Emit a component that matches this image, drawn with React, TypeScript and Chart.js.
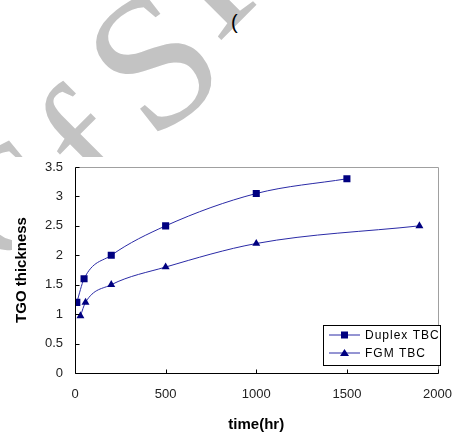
import React, { useEffect, useRef } from "react";
import { Chart, registerables } from "chart.js";

Chart.register(...registerables);

const duplexTime = [10, 50, 200, 500, 1000, 1500];
const duplexThickness = [1.2, 1.6, 2.0, 2.5, 3.05, 3.3];
const fgmTime = [30, 58, 200, 500, 1000, 1900];
const fgmThickness = [0.97, 1.2, 1.5, 1.8, 2.2, 2.5];
const seriesNames = ["Duplex TBC", "FGM TBC"];
const xTicks = [0, 500, 1000, 1500, 2000];
const yTicks = [0, 0.5, 1, 1.5, 2, 2.5, 3, 3.5];

const LINE = "#2a2aa6";
const MARK = "#000080";

const framePlugin = {
  id: "frame",
  afterDraw(chart: any) {
    const { ctx, chartArea: a, scales } = chart;
    const L = Math.round(a.left) + 0.5;
    const R = Math.round(a.right) + 0.5;
    const T = Math.round(a.top) + 0.5;
    const B = Math.round(a.bottom) + 0.5;
    ctx.save();
    ctx.lineWidth = 1;
    ctx.strokeStyle = "#a0a0a0";
    ctx.beginPath();
    ctx.moveTo(L, T);
    ctx.lineTo(R, T);
    ctx.lineTo(R, B);
    ctx.stroke();
    ctx.strokeStyle = "#000000";
    ctx.beginPath();
    ctx.moveTo(L, T);
    ctx.lineTo(L, B);
    ctx.lineTo(R, B);
    ctx.stroke();
    ctx.beginPath();
    for (const v of xTicks) {
      const px = Math.round(scales.x.getPixelForValue(v)) + 0.5;
      ctx.moveTo(px, B);
      ctx.lineTo(px, B - 4);
    }
    for (const v of yTicks) {
      const py = Math.round(scales.y.getPixelForValue(v)) + 0.5;
      ctx.moveTo(L, py);
      ctx.lineTo(L + 4, py);
    }
    ctx.stroke();

    // legend
    const bx = 323.5, by = 325.5, bw = 117, bh = 40;
    ctx.fillStyle = "#ffffff";
    ctx.fillRect(bx, by, bw, bh);
    ctx.strokeStyle = "#000000";
    ctx.strokeRect(bx, by, bw, bh);
    const rows = [by + 9.5, by + 27.5];
    ctx.font = "12px 'Liberation Sans', Arial, sans-serif";
    (ctx as any).letterSpacing = "1px";
    ctx.textBaseline = "middle";
    rows.forEach((ry, i) => {
      ctx.strokeStyle = LINE;
      ctx.beginPath();
      ctx.moveTo(329, ry);
      ctx.lineTo(360, ry);
      ctx.stroke();
      ctx.fillStyle = MARK;
      if (i === 0) {
        ctx.fillRect(341, ry - 3.5, 7, 7);
      } else {
        ctx.beginPath();
        ctx.moveTo(344.5, ry - 4);
        ctx.lineTo(349, ry + 3);
        ctx.lineTo(340, ry + 3);
        ctx.closePath();
        ctx.fill();
      }
      ctx.fillStyle = "#000000";
      ctx.fillText(seriesNames[i], 365, ry + 0.5);
    });
    ctx.restore();
  },
};

export default function App() {
  const ref = useRef<HTMLCanvasElement>(null);
  useEffect(() => {
    if (!ref.current) return;
    const chart = new Chart(ref.current, {
      type: "line",
      data: {
        datasets: [
          {
            label: seriesNames[0],
            data: duplexTime.map((t, i) => ({ x: t, y: duplexThickness[i] })),
            borderColor: LINE,
            backgroundColor: MARK,
            pointBorderColor: MARK,
            pointStyle: "rect",
            pointRadius: 5,
            pointBorderWidth: 0,
            borderWidth: 1,
            cubicInterpolationMode: "monotone",
          },
          {
            label: seriesNames[1],
            data: fgmTime.map((t, i) => ({ x: t, y: fgmThickness[i] })),
            borderColor: LINE,
            backgroundColor: MARK,
            pointBorderColor: MARK,
            pointStyle: "triangle",
            pointRadius: 4.6,
            pointBorderWidth: 0,
            borderWidth: 1,
            cubicInterpolationMode: "monotone",
          },
        ],
      },
      options: {
        animation: false,
        responsive: false,
        maintainAspectRatio: false,
        layout: { padding: { left: 0, top: 167, right: 19, bottom: 0 } },
        plugins: { legend: { display: false }, tooltip: { enabled: false } },
        scales: {
          x: {
            type: "linear",
            min: 0,
            max: 2000,
            afterBuildTicks: (s: any) => {
              s.ticks = xTicks.map((v) => ({ value: v }));
            },
            afterFit: (s: any) => {
              s.height = 70;
            },
            grid: { display: false, drawTicks: false },
            border: { display: false },
            ticks: {
              padding: 14,
              color: "#222",
              font: { family: "'Liberation Sans', Arial, sans-serif", size: 13 },
              maxRotation: 0,
              callback: (v: any) => String(v),
            },
            title: {
              display: true,
              text: "time(hr)",
              color: "#000",
              font: { family: "'Liberation Sans', Arial, sans-serif", size: 15, weight: "bold", lineHeight: 1 },
              padding: { top: 0, bottom: 10.5 },
            },
          },
          y: {
            type: "linear",
            min: 0,
            max: 3.5,
            afterBuildTicks: (s: any) => {
              s.ticks = yTicks.map((v) => ({ value: v }));
            },
            afterFit: (s: any) => {
              s.width = 75;
            },
            grid: { display: false, drawTicks: false },
            border: { display: false },
            ticks: {
              padding: 12,
              color: "#222",
              font: { family: "'Liberation Sans', Arial, sans-serif", size: 13 },
              callback: (v: any) => String(v),
            },
            title: {
              display: true,
              text: "TGO thickness",
              color: "#000",
              font: { family: "'Liberation Sans', Arial, sans-serif", size: 15, weight: "bold", lineHeight: 1 },
              padding: { top: 14.5, bottom: 0 },
            },
          },
        },
      },
      plugins: [framePlugin],
    } as any);
    return () => chart.destroy();
  }, []);

  const wm: React.CSSProperties = {
    position: "absolute",
    fontFamily: "'Liberation Serif', 'DejaVu Serif', serif",
    color: "#c3c3c3",
    lineHeight: 1,
    transformOrigin: "center center",
    whiteSpace: "nowrap",
  };

  return (
    <div style={{ position: "fixed", left: 0, top: 0, width: 466, height: 443, overflow: "hidden", background: "#fff" }}>
      <div style={{ ...wm, left: 58, top: 58, fontSize: 180, transform: "rotate(-45deg)" }}>f</div>
      <div style={{ ...wm, left: 100, top: -35, fontSize: 190, transform: "rotate(-38deg)" }}>S</div>
      <div style={{ ...wm, left: 162, top: -118, fontSize: 190, transform: "rotate(-45deg)" }}>I</div>
      <div style={{ ...wm, left: -45, top: 125, fontSize: 150, transform: "rotate(-38deg)" }}>C</div>
      <div style={{ position: "absolute", left: 12, top: 157, width: 454, height: 286, background: "#fff" }} />
      <div style={{ position: "absolute", left: 231, top: 12, fontSize: 20, fontFamily: "'Liberation Sans', Arial, sans-serif", color: "#000", lineHeight: 1 }}>(</div>
      <canvas ref={ref} width={466} height={443} style={{ position: "absolute", left: 0, top: 0, width: 466, height: 443 }} />
    </div>
  );
}
